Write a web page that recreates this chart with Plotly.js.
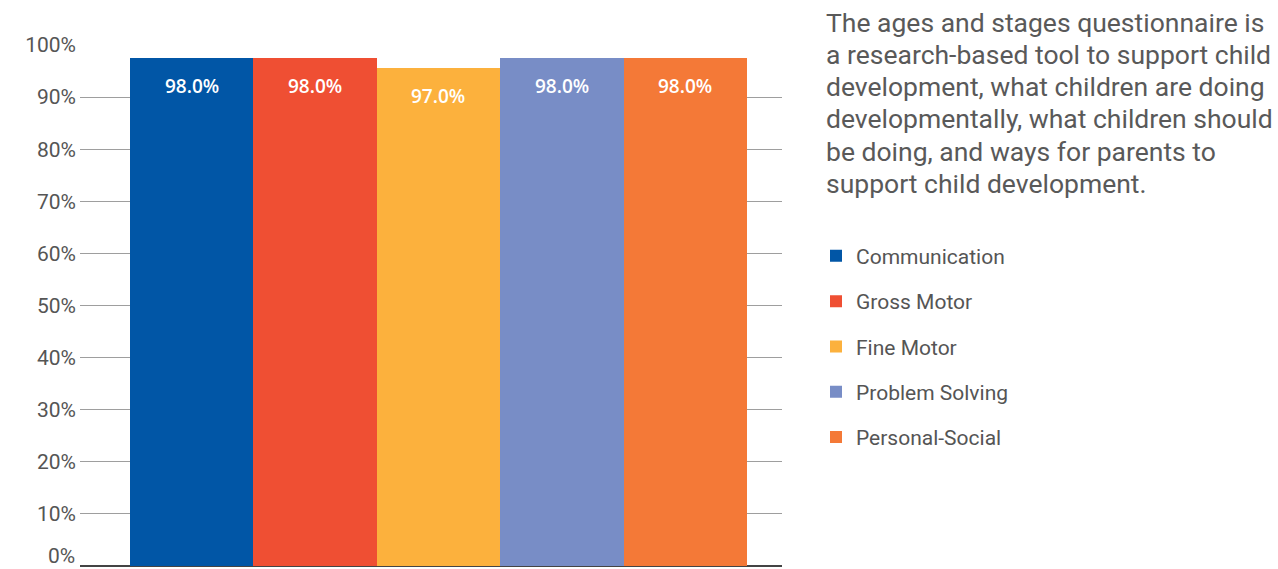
<!DOCTYPE html>
<html><head><meta charset="utf-8">
<script src="https://cdn.plot.ly/plotly-3.0.1.min.js"></script>
<style>html,body{margin:0;padding:0;background:#fff}#chart{width:1278px;height:569px}</style>
</head><body><div id="chart"></div>
<script>
const categories = ["Communication", "Gross Motor", "Fine Motor", "Problem Solving", "Personal-Social"];
const values = [97.5, 97.5, 95.6, 97.5, 97.5];
const valueLabels = ["98.0%", "98.0%", "97.0%", "98.0%", "98.0%"];
const colors = ["#0156A6", "#EF4F33", "#FCB13D", "#788DC6", "#F47937"];
const yTicks = [0, 10, 20, 30, 40, 50, 60, 70, 80, 90, 100];
const description = [
  "The ages and stages questionnaire is",
  "a research-based tool to support child",
  "development, what children are doing",
  "developmentally, what children should",
  "be doing, and ways for parents to",
  "support child development."
];

const traces = categories.map((c, i) => ({
  type: "bar", name: c, x: [c], y: [values[i]],
  marker: {color: colors[i], line: {width: 0}},
  legendgroup: "g" + i, hoverinfo: "name+y"
}));

const tickFont = {family: "Roboto, sans-serif", size: 21, color: "#555555"};
const annotations = categories.map((c, i) => ({
  x: c, y: values[i], xref: "x", yref: "y", text: valueLabels[i],
  showarrow: false, yanchor: "top", yshift: -13,
  font: {family: "Open Sans, sans-serif", size: 19, weight: 600, color: "#ffffff"}
}));
// lowest tick label sits just above the baseline so it stays inside the picture
annotations.push({
  xref: "paper", yref: "y", x: -4 / 702, y: yTicks[0], xanchor: "right", yanchor: "bottom",
  yshift: -3, showarrow: false, text: yTicks[0] + "%", font: tickFont, borderpad: 0
});
description.forEach((line, i) => {
  annotations.push({
    xref: "paper", yref: "paper", x: (824 - 80) / 702, y: (566 - (22 + i * 32.3)) / 521,
    xanchor: "left", yanchor: "middle", align: "left", showarrow: false,
    text: line, font: {family: "Roboto, sans-serif", size: 26.5, color: "#595959"}
  });
});

const layout = {
  width: 1278, height: 569,
  margin: {l: 80, r: 496, t: 45, b: 3, pad: 0},
  paper_bgcolor: "#ffffff", plot_bgcolor: "#ffffff",
  barmode: "overlay", bargap: 0,
  showlegend: true,
  legend: {x: (816 - 80) / 702, xanchor: "left", y: 0.634, yanchor: "top",
    traceorder: "grouped", tracegroupgap: 15,
    font: {family: "Roboto, sans-serif", size: 21, color: "#555555"}},
  xaxis: {type: "category", range: [-0.905, 4.784], showticklabels: false, showgrid: false,
    zeroline: false, showline: false, ticks: ""},
  yaxis: {range: [0, 100], tickvals: yTicks, ticktext: yTicks.map(v => v === 0 ? "" : v + "%"),
    showgrid: true, gridcolor: "#9e9e9e", gridwidth: 1,
    zeroline: true, zerolinecolor: "#444444", zerolinewidth: 1.5,
    showline: false, ticks: "", ticklabelstandoff: 3, automargin: false,
    ticklabeloverflow: "allow", tickfont: tickFont},
  annotations: annotations
};

Plotly.newPlot("chart", traces, layout, {displayModeBar: false, staticPlot: true});
</script></body></html>
